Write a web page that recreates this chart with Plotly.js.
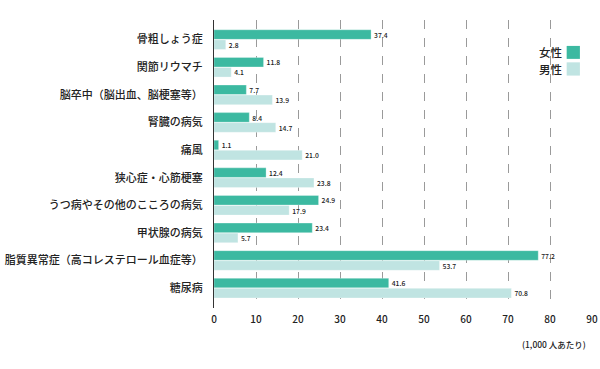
<!DOCTYPE html>
<html><head><meta charset="utf-8">
<script src="https://cdn.plot.ly/plotly-3.0.1.min.js"></script>
<style>body{margin:0;background:#fff}#c{width:600px;height:369px}</style>
</head><body><div id="c"></div>
<script>
const categories = ["骨粗しょう症","関節リウマチ","脳卒中（脳出血、脳梗塞等）","腎臓の病気","痛風","狭心症・心筋梗塞","うつ病やその他のこころの病気","甲状腺の病気","脂質異常症（高コレステロール血症等）","糖尿病"];
const female = [37.4,11.8,7.7,8.4,1.1,12.4,24.9,23.4,77.2,41.6];
const male = [2.8,4.1,13.9,14.7,21.0,23.8,17.9,5.7,53.7,70.8];
const tickVals = [0,10,20,30,40,50,60,70,80,90];
const femaleColor = "#3cb9a1", maleColor = "#c0e4e2";
const font = "'Noto Sans CJK JP', 'Noto Sans', sans-serif";

const mk = (name, vals, color) => ({
  type: "bar", orientation: "h", name: name, y: categories, x: vals,
  marker: {color: color, line: {color: "rgba(255,255,255,0.6)", width: 0.5}},
  text: vals.map(v => v.toFixed(1)), textposition: "outside",
  textfont: {size: 8.5, color: "#222", family: font, weight: 500}, cliponaxis: false,
  hoverinfo: "x+y"
});

const layout = {
  width: 600, height: 369,
  margin: {l: 214, r: 8, t: 20, b: 61},
  paper_bgcolor: "#fff", plot_bgcolor: "#fff",
  barmode: "group", bargap: 0.27, bargroupgap: 0.05,
  showlegend: false,
  font: {family: font, color: "#222"},
  xaxis: {range: [0, 90], tickvals: tickVals, showgrid: true, gridcolor: "#9a9a9a", griddash: "dash", gridwidth: 1,
    zeroline: false, showline: false, ticks: "", ticklabelstandoff: 4, tickfont: {size: 10, color: "#222", weight: 500}, fixedrange: true},
  yaxis: {range: [9.72, -0.71], showgrid: false, zeroline: false, ticks: "", ticklabelstandoff: 8,
    tickfont: {size: 11, color: "#222", weight: 500}, showline: true, linecolor: "#333", linewidth: 1},
  shapes: [
    {type: "rect", xref: "paper", yref: "paper", x0: 0.933, x1: 0.968, y0: 0.91, y1: 0.865, fillcolor: femaleColor, line: {width: 0}},
    {type: "rect", xref: "paper", yref: "paper", x0: 0.933, x1: 0.968, y0: 0.853, y1: 0.807, fillcolor: maleColor, line: {width: 0}}
  ],
  annotations: [
    {text: "女性", xref: "paper", yref: "paper", x: 0.925, y: 0.888, xanchor: "right", yanchor: "middle", showarrow: false, font: {size: 11.5, color: "#222", weight: 500}},
    {text: "男性", xref: "paper", yref: "paper", x: 0.925, y: 0.83, xanchor: "right", yanchor: "middle", showarrow: false, font: {size: 11.5, color: "#222", weight: 500}},
    {text: "(1,000 人あたり)", xref: "paper", yref: "paper", x: 0.99, y: -0.125, xanchor: "right", yanchor: "middle", showarrow: false, font: {size: 8.5, color: "#222", weight: 500}}
  ]
};
Plotly.newPlot("c", [mk("女性", female, femaleColor), mk("男性", male, maleColor)], layout, {displayModeBar: false, staticPlot: true});
</script></body></html>
